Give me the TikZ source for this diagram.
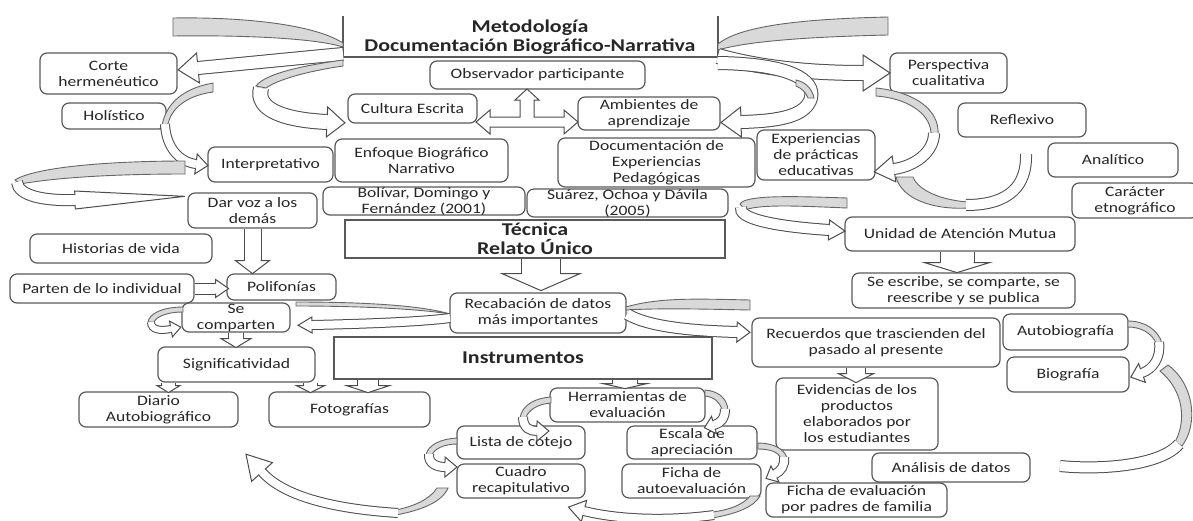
\documentclass[tikz,border=0pt]{standalone}
\usepackage{fontspec}
\setmainfont{Carlito}[FakeStretch=1.22]
\usetikzlibrary{calc,decorations.markings}

\tikzset{
  caja/.style={draw=black!65, line width=0.6pt, rounded corners=3.5pt, fill=white,
    text=black!85, align=center, inner sep=1pt},
  marco/.style={draw=black!65, line width=0.6pt, fill=white, text=black!85, align=center},
  titulo/.style={font=\fontsize{9}{9.7}\selectfont\bfseries, text=black!85, align=center},
  dorso/.style={draw=black!60, line width=0.45pt, fill=gray!30},
  cinta/.style n args={3}{draw=black!70, line width=0.5pt, double=white, double distance=#1,
    postaction={decorate, decoration={markings, mark=at position 1 with {\cabeza{#1}{#2}{#3}}}}},
}
\newcommand{\cabeza}[3]{%
  \fill[white] (0pt,{-#2/2}) -- (#3,0pt) -- (0pt,{#2/2}) -- cycle;
  \draw[black!70, line width=0.5pt]
    (0pt,{-#1/2}) -- (0pt,{-#2/2}) -- (#3,0pt) -- (0pt,{#2/2}) -- (0pt,{#1/2});}

\begin{document}
\begin{tikzpicture}[x=0.5pt, y=-0.5pt, font=\fontsize{7.2}{8}\selectfont]
\useasboundingbox (0,0) rectangle (1193,520);

% cabecera
\node[titulo] (metodo) at (530,37) {Metodología\\Documentación Biográfico-Narrativa};
\draw[black!65, line width=0.6pt] (343,16) |- (718,57) -- (718,16);

% columna izquierda
\node[caja, minimum width=68.5pt, minimum height=20.5pt] (corte) at (108.5,73.5) {Corte\\hermenéutico};
\node[caja, minimum width=52pt, minimum height=13pt] (holistico) at (114,116) {Holístico};
\node[caja, minimum width=62.5pt, minimum height=17.5pt] (interp) at (270.5,164.5) {Interpretativo};
\node[caja, minimum width=64.5pt, minimum height=17.5pt] (darvoz) at (252.5,210.5) {Dar voz a los\\demás};
\node[caja, minimum width=91pt, minimum height=14.5pt] (historias) at (121,248.5) {Historias de vida};
\node[caja, minimum width=92pt, minimum height=14.5pt] (parten) at (102,288.5) {Parten de lo individual};
\node[caja, minimum width=54.5pt, minimum height=13pt] (polifonias) at (281.5,287) {Polifonías};
\node[caja, minimum width=54pt, minimum height=14.5pt, inner ysep=0pt] (secomparten) at (236,317.5) {Se\\comparten};
\node[caja, minimum width=78.5pt, minimum height=17.5pt] (signif) at (236.5,364.5) {Significatividad};
\node[caja, minimum width=79.5pt, minimum height=17.5pt] (diario) at (158.5,409.5) {Diario\\Autobiográfico};
\node[caja, minimum width=80.5pt, minimum height=17.5pt] (fotografias) at (349.5,409.5) {Fotografías};

% centro
\node[caja, minimum width=107.5pt, minimum height=14pt] (observador) at (537.5,75) {Observador participante};
\node[caja, minimum width=64.5pt, minimum height=14.5pt] (cultura) at (412.5,108.5) {Cultura Escrita};
\node[caja, minimum width=71pt, minimum height=16.5pt] (ambientes) at (649,113.5) {Ambientes de\\aprendizaje};
\node[caja, minimum width=86.5pt, minimum height=21.5pt] (enfoque) at (421.5,160.5) {Enfoque Biográfico\\Narrativo};
\node[caja, minimum width=98.5pt, minimum height=24.5pt] (docexp) at (656.5,162.5) {Documentación de\\Experiencias\\Pedagógicas};
\node[caja, minimum width=101pt, minimum height=14pt, inner ysep=0pt] (bolivar) at (424,201) {Bolívar, Domingo y\\Fernández (2001)};
\node[caja, minimum width=100.5pt, minimum height=11.5pt, inner ysep=0pt] (suarez) at (627.5,203) {Suárez, Ochoa y Dávila\\(2005)};
\node[marco, titulo, minimum width=190pt, minimum height=19pt, inner ysep=0pt] (tecnica) at (535,239) {Técnica\\Relato Único};
\node[caja, minimum width=88pt, minimum height=20pt] (recabacion) at (538,313) {Recabación de datos\\más importantes};
\node[marco, titulo, minimum width=189pt, minimum height=21pt] (instrumentos) at (523,358) {Instrumentos};
\node[caja, minimum width=77.5pt, minimum height=17pt] (herramientas) at (627.5,405) {Herramientas de\\evaluación};
\node[caja, minimum width=64pt, minimum height=16.5pt] (lista) at (521,442.5) {Lista de cotejo};
\node[caja, minimum width=65pt, minimum height=16.5pt] (escala) at (692,442.5) {Escala de\\apreciación};
\node[caja, minimum width=64pt, minimum height=17pt] (cuadro) at (521,481) {Cuadro\\recapitulativo};
\node[caja, minimum width=69.5pt, minimum height=17pt] (fichaauto) at (691.5,481) {Ficha de\\autoevaluación};

% columna derecha
\node[caja, minimum width=59pt, minimum height=25pt] (experiencias) at (816,155) {Experiencias\\de prácticas\\educativas};
\node[caja, minimum width=58.5pt, minimum height=20pt] (perspectiva) at (948.5,73) {Perspectiva\\cualitativa};
\node[caja, minimum width=64pt, minimum height=17pt] (reflexivo) at (1022,120) {Reflexivo};
\node[caja, minimum width=65pt, minimum height=17pt] (analitico) at (1113,160) {Analítico};
\node[caja, minimum width=63pt, minimum height=17.5pt] (caracter) at (1135,200.5) {Carácter\\etnográfico};
\node[caja, minimum width=115pt, minimum height=17pt] (unidad) at (960,234) {Unidad de Atención Mutua};
\node[caja, minimum width=111.5pt, minimum height=17.5pt] (seescribe) at (963.5,290.5) {Se escribe, se comparte, se\\reescribe y se publica};
\node[caja, minimum width=124pt, minimum height=24.5pt] (recuerdos) at (876,342.5) {Recuerdos que trascienden del\\pasado al presente};
\node[caja, minimum width=62.5pt, minimum height=18pt] (autobio) at (1065.5,332) {Autobiografía};
\node[caja, minimum width=61pt, minimum height=17.5pt] (biografia) at (1068,374.5) {Biografía};
\node[caja, minimum width=81pt, minimum height=36pt] (evidencias) at (857,414) {Evidencias de los\\productos\\elaborados por\\los estudiantes};
\node[caja, minimum width=79pt, minimum height=14.5pt] (analisis) at (951,467.5) {Análisis de datos};
\node[caja, minimum width=90.5pt, minimum height=17pt] (fichapadres) at (856.5,500) {Ficha de evaluación\\por padres de familia};

% flechas de bloque
\draw[black!70, line width=0.5pt, fill=white] (520,100) -- (515,100) -- (527,89) -- (539,100) -- (534,100)
  -- (534,117) -- (564,117) -- (564,110) -- (578,122) -- (564,134) -- (564,127) -- (490,127)
  -- (490,134) -- (476,122) -- (490,110) -- (490,117) -- (520,117) -- cycle;
\draw[cinta={8pt}{17pt}{6.5pt}] (darvoz.south) -- ++(0,32);
\draw[cinta={5pt}{9pt}{6.5pt}] (parten.east) -- ++(21,0);
\draw[cinta={7pt}{15pt}{4.5pt}] (secomparten.south) -- ++(0,6);
\draw[cinta={19pt}{39pt}{8.5pt}] ([xshift=3pt]tecnica.south) -- ++(0,15);
\draw[cinta={16.5pt}{32.5pt}{5pt}] ([xshift=-1.5pt]unidad.south) -- ++(0,11);
\draw[cinta={9pt}{17.5pt}{4.5pt}] ([xshift=-10pt]recuerdos.south) -- ++(0,6);
\draw[cinta={6.5pt}{11.5pt}{3.5pt}] ([xshift=-34pt]signif.south) -- ++(0,3);
\draw[cinta={6.5pt}{14pt}{3.5pt}] ([xshift=37pt]signif.south) -- ++(0,3);
\draw[cinta={10pt}{21.5pt}{3.5pt}] ([xshift=-77.5pt]instrumentos.south) -- ++(0,6);
\draw[cinta={12pt}{22pt}{2.5pt}] ([xshift=51pt]instrumentos.south) -- ++(0,4);

% flechas curvas
\filldraw[dorso] (343,43) .. controls (310,22) and (230,17) .. (173,18) -- (173,36) .. controls (240,35) and (315,38) .. (343,47) -- cycle;
\draw[cinta={6pt}{15pt}{10pt}] (343,54) .. controls (300,58) and (240,64) .. (198,68);
\filldraw[dorso] (343,60) .. controls (300,66) and (265,74) .. (256,86) -- (266,88) .. controls (280,78) and (315,70) .. (343,66) -- cycle;
\draw[cinta={7pt}{15pt}{9pt}] (261,88) .. controls (255,110) and (285,120) .. (327,122);

\filldraw[dorso] (718,44) .. controls (740,26) and (800,19) .. (888,17) -- (888,35) .. controls (800,37) and (745,42) .. (718,50) -- cycle;
\draw[cinta={7pt}{18pt}{13.5pt}] (718,56) .. controls (760,68) and (810,73) .. (863,73);
\draw[cinta={6pt}{15pt}{10pt}] (718,63) .. controls (790,64) and (815,80) .. (811,98) .. controls (806,116) and (780,121) .. (741,122);
\filldraw[dorso] (796,80) .. controls (805,82) and (812,88) .. (814,98) -- (808,98) .. controls (806,92) and (801,88) .. (796,86) -- cycle;

\filldraw[dorso] (876,88) .. controls (915,92) and (940,110) .. (938,135) -- (931,133) .. controls (930,112) and (905,98) .. (876,96) -- cycle;
\draw[cinta={5pt}{13pt}{10pt}] (934,133) .. controls (934,152) and (915,166) .. (894,169);
\filldraw[dorso] (896,177) .. controls (902,200) and (935,210) .. (968,208) -- (968,202) .. controls (940,200) and (918,190) .. (913,177) -- cycle;
\draw[cinta={5pt}{15pt}{7pt}] (966,205) .. controls (1010,205) and (1027,185) .. (1026,154);

\filldraw[dorso] (213,83) .. controls (185,88) and (166,102) .. (162,126) -- (168,124) .. controls (172,106) and (190,95) .. (213,92) -- cycle;
\draw[cinta={4pt}{10pt}{6pt}] (165,124) .. controls (166,148) and (180,162) .. (196,164);
\filldraw[dorso] (185,161) .. controls (110,161) and (35,167) .. (15,180) -- (20,184) .. controls (60,177) and (120,174) .. (185,174) -- cycle;
\draw[cinta={5pt}{9pt}{55pt}] (17,182) .. controls (18,196) and (45,201) .. (75,200);
\filldraw[dorso] (183,307) .. controls (162,307) and (149,314) .. (148,322) -- (154,322) .. controls (157,316) and (168,312) .. (183,312) -- cycle;
\draw[cinta={3pt}{8pt}{5pt}] (151,322) .. controls (151,330) and (160,331) .. (171,329);

\filldraw[dorso] (450,314) .. controls (420,305) and (360,302) .. (296,302) -- (296,306) .. controls (360,306) and (420,309) .. (450,314) -- cycle;
\draw[cinta={4pt}{8pt}{7pt}] (450,318) .. controls (420,322) and (360,324) .. (312,325);
\filldraw[dorso] (626,307) .. controls (660,297) and (700,299) .. (750,300) -- (750,310) .. controls (700,309) and (660,308) .. (626,310) -- cycle;
\draw[cinta={5pt}{10pt}{6.5pt}] (627,314) .. controls (650,328) and (700,331) .. (737,332);
\filldraw[dorso] (740,204) .. controls (745,195) and (790,196) .. (847,198) -- (847,208) .. controls (800,206) and (760,204) .. (745,210) -- cycle;
\draw[cinta={5pt}{10pt}{8pt}] (741,207) .. controls (738,218) and (770,226) .. (829,230);

\filldraw[dorso] (551,397) .. controls (535,398) and (522,405) .. (520,418) -- (526,418) .. controls (528,410) and (538,404) .. (551,403) -- cycle;
\draw[cinta={4pt}{10pt}{6pt}] (523,417) .. controls (523,428) and (530,431) .. (537,431);
\filldraw[dorso] (705,390) .. controls (718,391) and (727,398) .. (728,410) -- (722,410) .. controls (720,402) and (714,397) .. (705,396) -- cycle;
\draw[cinta={4pt}{9pt}{5pt}] (725,409) .. controls (725,418) and (721,423) .. (714,425);
\filldraw[dorso] (457,438) .. controls (440,439) and (428,445) .. (426,455) -- (432,455) .. controls (434,449) and (444,444) .. (457,444) -- cycle;
\draw[cinta={4pt}{10pt}{6pt}] (429,454) .. controls (428,463) and (436,467) .. (445,467);
\filldraw[dorso] (758,443) .. controls (772,443) and (784,448) .. (787,458) -- (781,458) .. controls (778,452) and (770,449) .. (758,449) -- cycle;
\draw[cinta={4pt}{9pt}{5pt}] (784,457) .. controls (785,466) and (781,471) .. (775,474);
\filldraw[dorso] (760,496) .. controls (754,507) and (736,514) .. (712,518) -- (712,512) .. controls (730,510) and (744,504) .. (750,496) -- cycle;
\draw[cinta={4pt}{11pt}{8pt}] (714,515) .. controls (670,521) and (620,520) .. (584,511);
\filldraw[dorso] (448,488) .. controls (442,502) and (422,510) .. (396,515) -- (396,510) .. controls (415,506) and (430,499) .. (437,488) -- cycle;
\draw[cinta={4pt}{14pt}{12pt}] (398,513) .. controls (320,508) and (280,492) .. (262,472);

\filldraw[dorso] (1128,321) .. controls (1145,321) and (1158,330) .. (1162,343) -- (1156,343) .. controls (1152,334) and (1142,327) .. (1128,327) -- cycle;
\draw[cinta={4pt}{10pt}{6pt}] (1159,342) .. controls (1161,358) and (1153,369) .. (1142,373);
\filldraw[dorso] (1168,365) .. controls (1195,385) and (1198,425) .. (1182,446) -- (1175,442) .. controls (1187,420) and (1183,390) .. (1160,371) -- cycle;
\draw[cinta={5pt}{15pt}{13pt}] (1179,444) .. controls (1160,466) and (1100,470) .. (1060,466);
\end{tikzpicture}
\end{document}
